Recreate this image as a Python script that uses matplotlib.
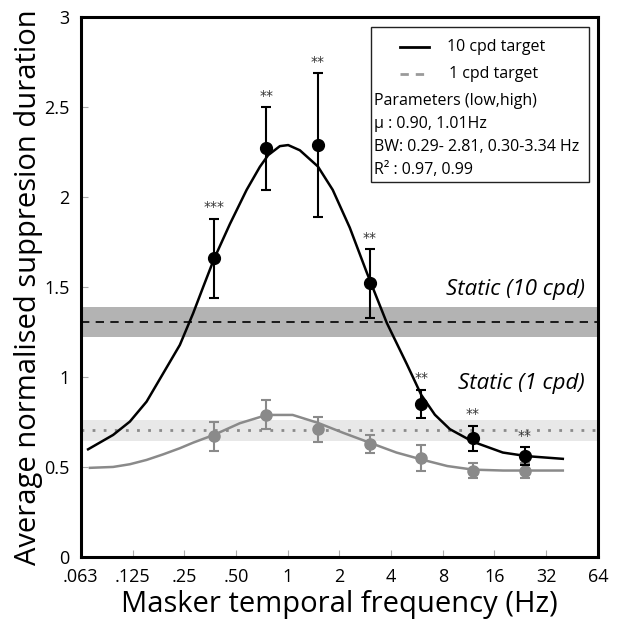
import matplotlib
matplotlib.use("Agg")
import matplotlib.pyplot as plt
from matplotlib.lines import Line2D
from matplotlib.patches import Rectangle

plt.rcParams['font.family'] = ['Open Sans', 'DejaVu Sans']

# data
freq = [0.375, 0.75, 1.5, 3, 6, 12, 24]
hi_mean = [1.66, 2.27, 2.29, 1.52, 0.85, 0.66, 0.56]
hi_err = [0.22, 0.23, 0.40, 0.19, 0.08, 0.07, 0.05]
lo_mean = [0.67, 0.79, 0.71, 0.63, 0.55, 0.48, 0.48]
lo_err = [0.08, 0.08, 0.07, 0.05, 0.07, 0.04, 0.04]
stars = ['***', '**', '**', '**', '**', '**', '**']

# fitted curves
hi_fit_x = [0.0689, 0.0964, 0.1206, 0.1509, 0.1885, 0.2357, 0.2817, 0.3222, 0.372,
            0.461, 0.577, 0.689, 0.770, 0.901, 1.007, 1.178, 1.50, 1.83, 2.30,
            2.89, 3.78, 4.95, 6.0, 7.2, 8.8, 12.0, 17.9, 24.7, 40]
hi_fit_y = [0.598, 0.678, 0.752, 0.863, 1.02, 1.178, 1.354, 1.50, 1.654,
            1.85, 2.04, 2.168, 2.233, 2.283, 2.289, 2.26, 2.17, 2.04, 1.83,
            1.58, 1.30, 1.07, 0.90, 0.79, 0.71, 0.64, 0.58, 0.56, 0.545]
lo_fit_x = [0.0706, 0.0964, 0.1206, 0.1509, 0.1885, 0.2357, 0.2817, 0.372, 0.527,
            0.757, 1.07, 1.5, 2.1, 3.0, 4.3, 6.1, 8.5, 12, 18, 40]
lo_fit_y = [0.495, 0.50, 0.515, 0.539, 0.57, 0.604, 0.635, 0.678, 0.743,
            0.789, 0.789, 0.745, 0.69, 0.635, 0.58, 0.54, 0.505, 0.485, 0.48, 0.48]

static_hi = (1.305, 1.22, 1.39)
static_lo = (0.705, 0.645, 0.76)

xticks = [0.0625, 0.125, 0.25, 0.5, 1, 2, 4, 8, 16, 32, 64]
xticklabels = ['.063', '.125', '.25', '.50', '1', '2', '4', '8', '16', '32', '64']
yticks = [0, 0.5, 1, 1.5, 2, 2.5, 3]
yticklabels = ['0', '0.5', '1', '1.5', '2', '2.5', '3']

fig = plt.figure(figsize=(6.17, 6.35), dpi=100)
ax = fig.add_axes([0.131, 0.123, 0.838, 0.850])
ax.set_xscale('log', base=2)
ax.set_xlim(0.0625, 64)
ax.set_ylim(0, 3)

# static bands
ax.axhspan(static_hi[1], static_hi[2], color='#b3b3b3', lw=0, zorder=0)
ax.axhline(static_hi[0], color='black', lw=1.2, ls=(0, (5, 3.8)), zorder=1)
ax.axhspan(static_lo[1], static_lo[2], color='#e8e8e8', lw=0, zorder=0)
ax.axhline(static_lo[0], color='#8a8a8a', lw=2, ls=(0, (1, 3)), zorder=1)

# fits
ax.plot(lo_fit_x, lo_fit_y, color='#8a8a8a', lw=1.8, zorder=2)
ax.plot(hi_fit_x, hi_fit_y, color='black', lw=1.8, zorder=3)

# data points
ax.errorbar(freq, lo_mean, yerr=lo_err, fmt='o', color='#8a8a8a', ms=8,
            elinewidth=1.5, capsize=3.5, capthick=1.5, zorder=4)
ax.errorbar(freq, hi_mean, yerr=hi_err, fmt='o', color='black', ms=8.5,
            elinewidth=1.5, capsize=3.5, capthick=1.5, zorder=5)

for x, m, e, s in zip(freq, hi_mean, hi_err, stars):
    ax.annotate(s, (x, m + e), xytext=(0, 3), textcoords='offset points',
                ha='center', va='bottom', fontsize=10, color='#333333',
                family='DejaVu Sans')

ax.text(0.975, 0.495, 'Static (10 cpd)', transform=ax.transAxes, ha='right',
        va='center', fontsize=16, style='italic')
ax.text(0.975, 0.322, 'Static (1 cpd)', transform=ax.transAxes, ha='right',
        va='center', fontsize=16, style='italic')

# legend box
ax.add_patch(Rectangle((0.561, 0.694), 0.422, 0.287, transform=ax.transAxes,
                       fill=False, ec='#222222', lw=1, zorder=6))
ax.add_line(Line2D([0.618, 0.674], [0.944, 0.944], transform=ax.transAxes,
                   color='black', lw=2, zorder=6))
ax.add_line(Line2D([0.618, 0.674], [0.894, 0.894], transform=ax.transAxes,
                   color='#9a9a9a', lw=2, ls=(0, (3, 2.5)), zorder=6))
ax.text(0.708, 0.944, '10 cpd target', transform=ax.transAxes, va='center', fontsize=11.5)
ax.text(0.712, 0.894, '1 cpd target', transform=ax.transAxes, va='center', fontsize=11.5)
params = ['Parameters (low,high)', 'μ : 0.90, 1.01Hz',
          'BW: 0.29- 2.81, 0.30-3.34 Hz', 'R² : 0.97, 0.99']
for i, t in enumerate(params):
    ax.text(0.567, 0.844 - i * 0.0425, t, transform=ax.transAxes, va='center', fontsize=11.5)

ax.set_xticks(xticks)
ax.set_xticklabels(xticklabels)
ax.minorticks_off()
ax.set_yticks(yticks)
ax.set_yticklabels(yticklabels)
ax.tick_params(direction='in', length=5, width=0.8, color='#aaaaaa',
               labelsize=13, pad=8)
for sp in ax.spines.values():
    sp.set_linewidth(2.2)
ax.set_xlabel('Masker temporal frequency (Hz)', fontsize=21, labelpad=3)
ax.set_ylabel('Average normalised suppresion duration', fontsize=21, labelpad=1)

fig.savefig('out.png', dpi=100)
